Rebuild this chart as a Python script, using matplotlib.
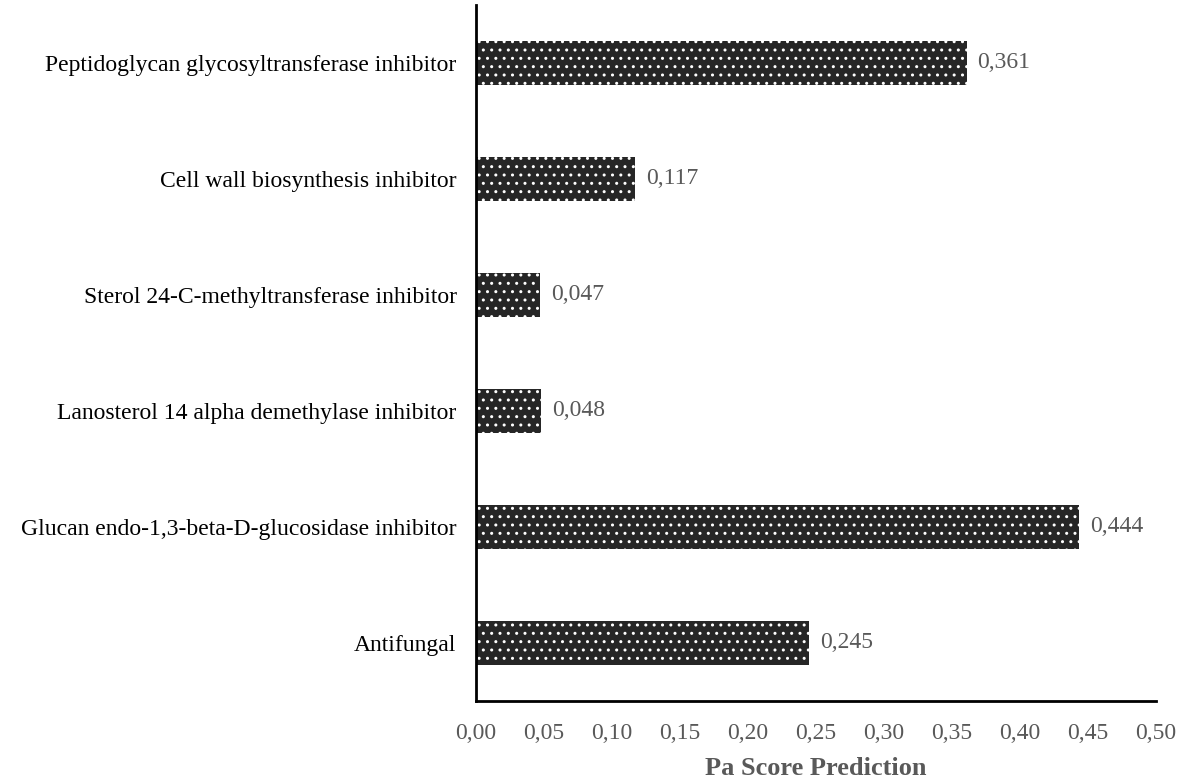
import numpy as np
import matplotlib.pyplot as plt

plt.rcParams['font.family'] = ['Liberation Serif', 'DejaVu Serif']
plt.rcParams['hatch.linewidth'] = 1.0
plt.rcParams['hatch.color'] = 'white'

categories = ['Antifungal',
              'Glucan endo-1,3-beta-D-glucosidase inhibitor',
              'Lanosterol 14 alpha demethylase inhibitor',
              'Sterol 24-C-methyltransferase inhibitor',
              'Cell wall biosynthesis inhibitor',
              'Peptidoglycan glycosyltransferase inhibitor']
scores = [0.245, 0.444, 0.048, 0.047, 0.117, 0.361]
xticks = [0.00, 0.05, 0.10, 0.15, 0.20, 0.25, 0.30, 0.35, 0.40, 0.45, 0.50]

fig = plt.figure(figsize=(11.84, 7.83), dpi=100)
ax = fig.add_axes([0.402, 0.105, 0.574, 0.889])

ind = np.arange(len(categories))
bars = ax.barh(ind, scores, height=0.38, color='#262626', edgecolor='white',
               linewidth=0, hatch='..')

for rect, v in zip(bars, scores):
    ax.text(rect.get_width() + 0.008, rect.get_y() + rect.get_height() / 2,
            ('%.3f' % v).replace('.', ','), ha='left', va='center',
            fontsize=17, color='#595959')

ax.set_xlim(0, 0.5)
ax.set_ylim(-0.5, len(categories) - 0.5)
ax.set_xticks(xticks)
ax.set_xticklabels([('%.2f' % t).replace('.', ',') for t in xticks],
                   fontsize=17, color='#595959')
ax.set_yticks(ind)
ax.set_yticklabels(categories, fontsize=17, color='black')
ax.tick_params(length=0)
ax.tick_params(axis='x', pad=16)
ax.tick_params(axis='y', pad=14)

for s in ['top', 'right']:
    ax.spines[s].set_visible(False)
for s in ['left', 'bottom']:
    ax.spines[s].set_linewidth(2)
    ax.spines[s].set_color('black')

ax.set_xlabel('Pa Score Prediction', fontsize=19, fontweight='bold',
              color='#595959', labelpad=9)

fig.savefig('out.png', dpi=100)
